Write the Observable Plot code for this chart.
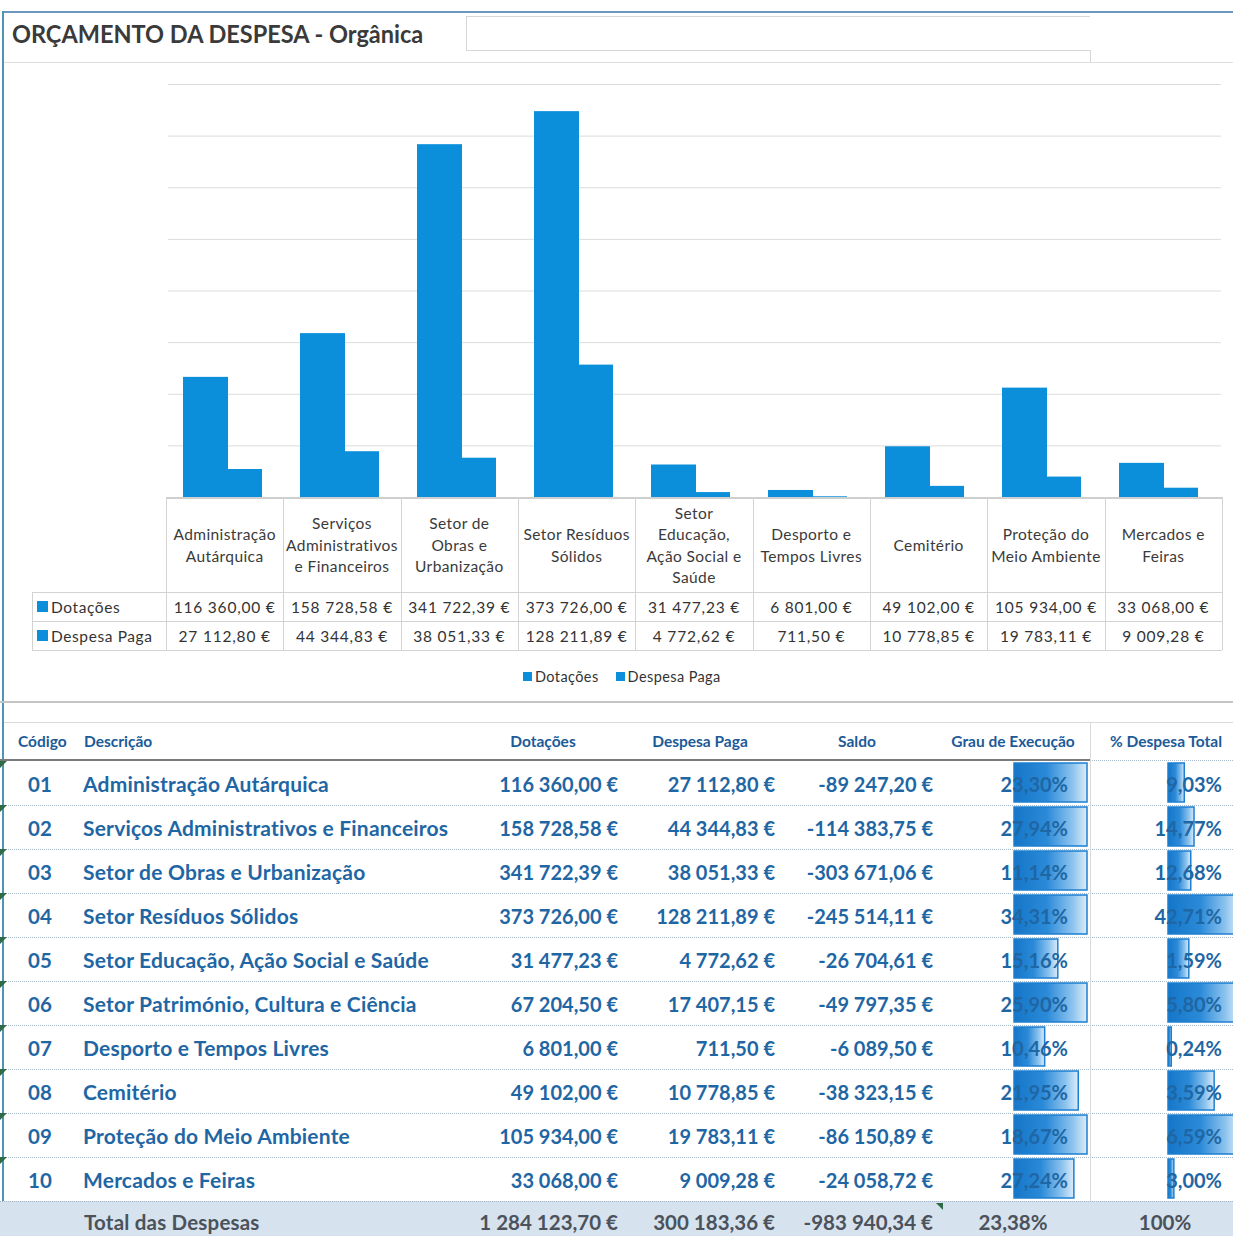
<!DOCTYPE html>
<html><head><meta charset="utf-8">
<script src="https://cdn.jsdelivr.net/npm/d3@7"></script>
<script src="https://cdn.jsdelivr.net/npm/@observablehq/plot@0.6"></script>
<style>
body{margin:0;background:#fff;}
#root{position:relative;width:1233px;height:1236px;overflow:hidden;background:#fff;font-family:Lato,sans-serif;}
#root div{box-sizing:border-box;}
</style></head><body><div id="root"></div>
<script>
// ---------- DATA ----------
const title = "ORÇAMENTO DA DESPESA - Orgânica";
const series = ["Dotações", "Despesa Paga"];
const chartCategories = ["Administração Autárquica","Serviços Administrativos e Financeiros","Setor de Obras e Urbanização","Setor Resíduos Sólidos","Setor Educação, Ação Social e Saúde","Desporto e Tempos Livres","Cemitério","Proteção do Meio Ambiente","Mercados e Feiras"];
const chartCategoryLabels = ["Administração\nAutárquica","Serviços\nAdministrativos\ne Financeiros","Setor de\nObras e\nUrbanização","Setor Resíduos\nSólidos","Setor\nEducação,\nAção Social e\nSaúde","Desporto e\nTempos Livres","Cemitério","Proteção do\nMeio Ambiente","Mercados e\nFeiras"];
const chartDotacoes = [116360.00, 158728.58, 341722.39, 373726.00, 31477.23, 6801.00, 49102.00, 105934.00, 33068.00];
const chartDespesaPaga = [27112.80, 44344.83, 38051.33, 128211.89, 4772.62, 711.50, 10778.85, 19783.11, 9009.28];
const yTicks = [50000, 100000, 150000, 200000, 250000, 300000, 350000, 400000];

const tableHeaders = ["Código","Descrição","Dotações","Despesa Paga","Saldo","Grau de Execução","% Despesa Total"];
const codes = ["01","02","03","04","05","06","07","08","09","10"];
const descricoes = ["Administração Autárquica","Serviços Administrativos e Financeiros","Setor de Obras e Urbanização","Setor Resíduos Sólidos","Setor Educação, Ação Social e Saúde","Setor Património, Cultura e Ciência","Desporto e Tempos Livres","Cemitério","Proteção do Meio Ambiente","Mercados e Feiras"];
const dotacoes = [116360.00, 158728.58, 341722.39, 373726.00, 31477.23, 67204.50, 6801.00, 49102.00, 105934.00, 33068.00];
const despesaPaga = [27112.80, 44344.83, 38051.33, 128211.89, 4772.62, 17407.15, 711.50, 10778.85, 19783.11, 9009.28];
const saldo = [-89247.20, -114383.75, -303671.06, -245514.11, -26704.61, -49797.35, -6089.50, -38323.15, -86150.89, -24058.72];
const grauExecucao = [23.30, 27.94, 11.14, 34.31, 15.16, 25.90, 10.46, 21.95, 18.67, 27.24];
const pctDespesaTotal = [9.03, 14.77, 12.68, 42.71, 1.59, 5.80, 0.24, 3.59, 6.59, 3.00];
// data-bar lengths as drawn in the picture (percent of the cell's bar room)
const grauBarLength = [100, 100, 100, 100, 60, 100, 42, 88, 100, 82];
const pctBarLength = [25, 40, 35, 110, 32, 110, 5, 71, 110, 9];
const totalLabel = "Total das Despesas";
const totalDotacoes = 1284123.70;
const totalDespesaPaga = 300183.36;
const totalSaldo = -983940.34;
const totalGrau = 23.38;
const totalPct = "100%";

// ---------- HELPERS ----------
const loc = d3.formatLocale({decimal: ",", thousands: " ", grouping: [3], currency: ["", " €"], minus: "-"});
const eur = loc.format("$,.2f");
const pct = v => loc.format(",.2f")(v) + "%";
const BLUE = "#0b8fdb";
const root = document.getElementById("root");
function el(style, text, parent = root) {
  const e = document.createElement("div");
  e.style.position = "absolute";
  if (style.font) e.style.font = style.font;
  for (const k in style) if (k !== "font") e.style[k] = style[k];
  if (text != null) e.textContent = text;
  parent.appendChild(e);
  return e;
}
const px = v => v + "px";
function hline(x1, x2, y, w, color, style = "solid") { el({left: px(x1), top: px(y), width: px(x2 - x1), height: "0", borderTop: `${w}px ${style} ${color}`}); }
function vline(x, y1, y2, w, color) { el({left: px(x), top: px(y1), width: "0", height: px(y2 - y1), borderLeft: `${w}px solid ${color}`}); }

// ---------- FRAME / TITLE ----------
hline(3, 1233, 11, 2, "#6b97bf");
vline(2, 11, 1201, 2, "#4f93b5");
el({left: "466px", top: "16px", width: "624px", height: "35px", border: "1px solid #d6d6d6", borderRight: "none"});
vline(1090, 50, 62, 1, "#d6d6d6");
hline(4, 1233, 62, 1, "#dedede");
el({left: "12px", top: "18px", font: "bold 25px Lato", lineHeight: "30px", color: "#3a3a3a", whiteSpace: "nowrap", transform: "scaleX(0.94)", transformOrigin: "0 0"}, title);

// ---------- BAR CHART ----------
const chartRows = chartCategories.flatMap((c, i) => [
  {cat: c, serie: series[0], v: chartDotacoes[i]},
  {cat: c, serie: series[1], v: chartDespesaPaga[i]}
]);
const chart = Plot.plot({
  width: 1233, height: 440,
  marginTop: 24, marginBottom: 3, marginLeft: 166, marginRight: 11,
  style: {background: "transparent"},
  fx: {domain: chartCategories, paddingInner: 0, paddingOuter: 0, axis: null, label: null},
  x: {domain: series, paddingInner: 0, paddingOuter: 0.275, align: 0.56, axis: null, label: null},
  y: {domain: [0, 400000], axis: null},
  marks: [
    Plot.ruleY(yTicks, {stroke: "#dcdcdc", strokeWidth: 1}),
    Plot.barY(chartRows.filter(d => d.serie === series[0]), {fx: "cat", x: "serie", y: "v", fill: BLUE}),
    Plot.barY(chartRows.filter(d => d.serie === series[1]), {fx: "cat", x: "serie", y: "v", fill: BLUE, insetRight: 11})
  ]
});
const chartBox = el({left: "0px", top: "60px", width: "1233px", height: "440px"});
chartBox.appendChild(chart);

// ---------- CHART DATA TABLE ----------
const T0 = 497, T1 = 592, T2 = 621, T3 = 650, X0 = 32, C0 = 166, CW = (1222 - 166) / 9;
const LINE = "#d3d3d3";
hline(C0, 1222, T0, 2, "#cfcfcf");
[T1, T2, T3].forEach(y => hline(X0, 1222, y, 1, LINE));
for (let i = 0; i <= 9; i++) vline(C0 + i * CW, T0, T3, 1, LINE);
vline(X0, T1, T3, 1, LINE);
const VS = {font: "15.5px Lato", textAlign: "center", letterSpacing: "0.8px", color: "#333", whiteSpace: "nowrap"};
chartCategoryLabels.forEach((lab, i) => {
  el({font: "15.5px Lato", left: px(C0 + i * CW), top: px(T0 + 1), width: px(CW), height: px(T1 - T0), display: "flex", alignItems: "center", justifyContent: "center", textAlign: "center", whiteSpace: "pre-line", lineHeight: "21.5px", letterSpacing: "0.4px", color: "#3a3a3a"}, lab);
  el({...VS, left: px(C0 + i * CW), top: px(T1 + 1), width: px(CW), height: px(T2 - T1), lineHeight: px(T2 - T1)}, eur(chartDotacoes[i]));
  el({...VS, left: px(C0 + i * CW), top: px(T2 + 1), width: px(CW), height: px(T3 - T2), lineHeight: px(T3 - T2)}, eur(chartDespesaPaga[i]));
});
[[T1, series[0]], [T2, series[1]]].forEach(([y, s]) => {
  el({left: "37px", top: px(y + 9), width: "11px", height: "11px", background: BLUE});
  el({font: "15.5px Lato", left: "51px", top: px(y + 1), height: "29px", lineHeight: "29px", letterSpacing: "0.6px", color: "#333", whiteSpace: "nowrap"}, s);
});
// legend
const leg = el({font: "14.5px Lato", left: "523px", top: "666px", height: "20px", display: "flex", alignItems: "center", gap: "17px", letterSpacing: "0.4px", color: "#333", whiteSpace: "nowrap"});
series.forEach(s => {
  const item = document.createElement("div");
  item.style.cssText = "position:relative;display:flex;align-items:center;gap:3px;";
  const sw = document.createElement("div");
  sw.style.cssText = `width:9px;height:9px;background:${BLUE};`;
  const t = document.createElement("span"); t.textContent = s;
  item.appendChild(sw); item.appendChild(t); leg.appendChild(item);
});

// ---------- LOWER TABLE ----------
const H0 = 722, H1 = 761, RH = 44, NR = codes.length, TB = H1 + RH * NR; // 1201
el({left: "0px", top: px(TB), width: "1233px", height: px(1236 - TB), background: "#d6e2ed"});
hline(0, 1233, 701, 2, "#c4c4c4");
hline(4, 1233, H0, 1, "#d9d9d9");

const TXT = "#1f66a4";
const rowsData = codes.map((c, i) => ({code: c, grauBar: grauBarLength[i], pctBar: pctBarLength[i]}));
function dataBars(key, left, width, range, gid) {
  const p = Plot.plot({
    width, height: RH * NR, margin: 0,
    style: {background: "transparent", overflow: "visible"},
    x: {domain: [0, 100], range: [0, range], axis: null},
    y: {domain: codes, paddingInner: 0.11, paddingOuter: 0.055, axis: null},
    marks: [Plot.barX(rowsData, {x: key, y: "code", fill: `url(#${gid})`, stroke: "#1d7fcf", strokeWidth: 1.5})]
  });
  const defs = document.createElementNS("http://www.w3.org/2000/svg", "defs");
  defs.innerHTML = `<linearGradient id="${gid}" x1="0" x2="1" y1="0" y2="0"><stop offset="0" stop-color="#1576c8"/><stop offset="0.45" stop-color="#2b8ad8"/><stop offset="0.8" stop-color="#8cc3ee"/><stop offset="1" stop-color="#dcecf9"/></linearGradient>`;
  p.insertBefore(defs, p.firstChild);
  const box = el({left: px(left), top: px(H1), width: px(width), height: px(RH * NR)});
  box.appendChild(p);
}
dataBars("grauBar", 1014, 76, 73, "gGrau");
dataBars("pctBar", 1168, 80, 65, "gPct");

hline(0, 1090, H1 - 2, 2, "#7b7b7b");
hline(1090, 1233, H1 - 1, 1, "#a9bccd", "dotted");
for (let i = 1; i < NR; i++) hline(0, 1233, H1 + RH * i, 1, "#a3b7ca", "dotted");
hline(0, 1233, TB, 1, "#a3b7ca", "dotted");
vline(1090, H0, TB, 1, "#dadada");

// header
const HS = {font: "bold 15.5px Lato", top: px(H0), height: px(H1 - H0), lineHeight: px(H1 - H0 - 1), color: "#1c5b98", whiteSpace: "nowrap"};
el({...HS, left: "18px"}, tableHeaders[0]);
el({...HS, left: "84px"}, tableHeaders[1]);
[[543, 2], [700, 3], [857, 4], [1013, 5], [1166, 6]].forEach(([cx, k]) =>
  el({...HS, left: px(cx - 100), width: "200px", textAlign: "center"}, tableHeaders[k]));

// rows
const RS = {font: "bold 20px Lato", height: px(RH), lineHeight: px(RH), color: TXT, whiteSpace: "nowrap"};
codes.forEach((c, i) => {
  const top = px(H1 + RH * i + 1);
  el({...RS, top, left: "28px", font: "bold 20.5px Lato"}, c);
  el({...RS, top, left: "83px", font: "bold 21px Lato", letterSpacing: "0.2px"}, descricoes[i]);
  el({...RS, top, left: "400px", width: "218px", textAlign: "right"}, eur(dotacoes[i]));
  el({...RS, top, left: "600px", width: "175px", textAlign: "right"}, eur(despesaPaga[i]));
  el({...RS, top, left: "760px", width: "173px", textAlign: "right"}, eur(saldo[i]));
  el({...RS, top, left: "940px", width: "128px", textAlign: "right"}, pct(grauExecucao[i]));
  el({...RS, top, left: "1092px", width: "130px", textAlign: "right"}, pct(pctDespesaTotal[i]));
  // comment markers
  el({left: "0px", top: px(H1 + RH * i), width: "0", height: "0", borderTop: "7px solid #2e6b45", borderRight: "7px solid transparent"});
});
// total row
const TS = {font: "bold 20.5px Lato", top: px(TB + 1), height: px(1236 - TB), lineHeight: "40px", color: "#4b525b", whiteSpace: "nowrap"};
el({...TS, left: "84px", letterSpacing: "0.2px"}, totalLabel);
el({...TS, left: "400px", width: "218px", textAlign: "right"}, eur(totalDotacoes));
el({...TS, left: "600px", width: "175px", textAlign: "right"}, eur(totalDespesaPaga));
el({...TS, left: "760px", width: "173px", textAlign: "right"}, eur(totalSaldo));
el({...TS, left: "913px", width: "200px", textAlign: "center"}, pct(totalGrau));
el({...TS, left: "1065px", width: "200px", textAlign: "center"}, totalPct);
el({left: "936px", top: px(TB + 2), width: "0", height: "0", borderTop: "7px solid #2e6b45", borderLeft: "7px solid transparent"});
</script></body></html>
